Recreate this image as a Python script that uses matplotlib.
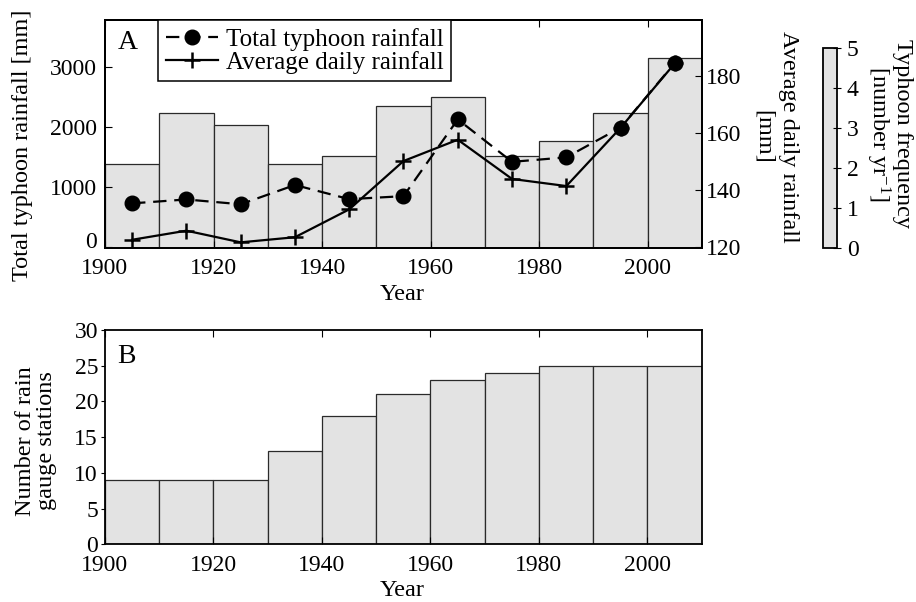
import matplotlib
matplotlib.use("Agg")
import matplotlib.pyplot as plt
from matplotlib.colors import ListedColormap, Normalize
from matplotlib.cm import ScalarMappable
from matplotlib.transforms import ScaledTranslation

plt.rcParams['font.family'] = ['Liberation Serif', 'DejaVu Serif']
plt.rcParams['mathtext.fontset'] = 'custom'
plt.rcParams['mathtext.rm'] = 'Liberation Serif'
plt.rcParams['mathtext.it'] = 'Liberation Serif:italic'
plt.rcParams['axes.linewidth'] = 1.3

# ---- data ----
decade_mid = [1905, 1915, 1925, 1935, 1945, 1955, 1965, 1975, 1985, 1995, 2005]
typhoon_freq = [2.12, 3.39, 3.09, 2.12, 2.31, 3.58, 3.79, 2.31, 2.70, 3.40, 4.79]
total_rain = [730, 795, 715, 1035, 800, 850, 2125, 1420, 1495, 1990, 3065]
avg_daily = [122.4, 125.6, 121.5, 123.3, 133.1, 150.1, 157.6, 143.8, 141.3, 161.8, 184.5]
stations = [9, 9, 9, 13, 18, 21, 23, 24, 25, 25, 25]
year_ticks = [1900, 1920, 1940, 1960, 1980, 2000]

BAR = '#e3e3e3'
EDGE = '#2a2a2a'
FS = 17

fig = plt.figure(figsize=(9.16, 6.02), dpi=100)

# ---------- Panel A ----------
posA = [0.1146, 0.588, 0.6518, 0.3787]
axB = fig.add_axes(posA)
axB.bar(decade_mid, typhoon_freq, width=10, color=BAR, edgecolor=EDGE, linewidth=0.9)
axB.set_xlim(1900, 2010)
axB.set_ylim(0, 5.74)
axB.set_yticks([])
axB.set_xticks(year_ticks)
axB.tick_params(axis='x', direction='in', top=True, labelsize=FS, length=5, pad=7.5)

axL = fig.add_axes(posA, sharex=axB)
axL.patch.set_visible(False)
lt, = axL.plot(decade_mid, total_rain, color='black', linestyle=(0, (6, 3.5)),
               linewidth=1.6, marker='o', markersize=10.5, label='Total typhoon rainfall')
axL.set_ylim(-12, 3776)
axL.set_yticks([0, 1000, 2000, 3000])
axL.tick_params(axis='y', direction='in', labelsize=FS, length=5, pad=6)
axL.tick_params(axis='x', bottom=False, labelbottom=False)
# the "0" label sits slightly above its tick in the original
lab0 = axL.yaxis.get_major_ticks()[0].label1
lab0.set_transform(lab0.get_transform() + ScaledTranslation(0, 0.07, fig.dpi_scale_trans))

axR = axL.twinx()
la, = axR.plot(decade_mid, avg_daily, color='black', linestyle='-', linewidth=1.6,
               marker='+', markersize=11, markeredgewidth=1.8, label='Average daily rainfall')
axR.set_ylim(119.5, 199.7)
axR.set_yticks([120, 140, 160, 180])
axR.tick_params(axis='y', direction='in', labelsize=FS, length=5, pad=3)

leg = axR.legend(handles=[lt, la], loc='upper left', bbox_to_anchor=(0.089, 1.0),
                 borderaxespad=0, fontsize=18, frameon=True, fancybox=False,
                 edgecolor='black', framealpha=1, handlelength=2.1,
                 handletextpad=0.3, labelspacing=0.0, borderpad=0.3)
leg.get_frame().set_linewidth(1.1)

axB.text(0.022, 0.955, 'A', transform=axB.transAxes, fontsize=20, va='top', ha='left')

fig.text(0.0251, 0.759, 'Total typhoon rainfall [mm]', rotation=90,
         ha='center', va='center', fontsize=17.5)
fig.text(0.4389, 0.5116, 'Year', ha='center', va='center', fontsize=17.5)
fig.text(0.8470, 0.7733, 'Average daily rainfall\n[mm]', rotation=270,
         ha='center', va='center', multialignment='center', fontsize=17.5,
         linespacing=1.25)

# colour-scale bar for typhoon frequency
cax = fig.add_axes([0.8985, 0.5885, 0.0153, 0.3313])
sm = ScalarMappable(norm=Normalize(0, 5), cmap=ListedColormap([BAR]))
cb = fig.colorbar(sm, cax=cax, ticks=[0, 1, 2, 3, 4, 5])
cb.outline.set_linewidth(1.3)
cax.tick_params(direction='inout', length=6, labelsize=FS, pad=4)
fig.text(0.970, 0.778, 'Typhoon frequency\n[number yr$^{-1}$]', rotation=270,
         ha='center', va='center', multialignment='center', fontsize=17.5,
         linespacing=1.0)

# ---------- Panel B ----------
ax2 = fig.add_axes([0.1146, 0.0958, 0.6514, 0.356])
ax2.bar(decade_mid, stations, width=10, color=BAR, edgecolor=EDGE, linewidth=0.9)
ax2.set_xlim(1900, 2010)
ax2.set_ylim(0, 30)
ax2.set_yticks([0, 5, 10, 15, 20, 25, 30])
ax2.set_xticks(year_ticks)
ax2.tick_params(axis='x', direction='in', top=True, labelsize=FS, length=5, pad=8)
ax2.tick_params(axis='y', direction='out', labelsize=FS, length=3, pad=2)
ax2.text(0.02, 0.935, 'B', transform=ax2.transAxes, fontsize=20, va='top', ha='left')

fig.text(0.0393, 0.2674, 'Number of rain\ngauge stations', rotation=90,
         ha='center', va='center', multialignment='center', fontsize=17.5,
         linespacing=1.05)
fig.text(0.4389, 0.019, 'Year', ha='center', va='center', fontsize=17.5)

fig.savefig('out.png', dpi=100)
